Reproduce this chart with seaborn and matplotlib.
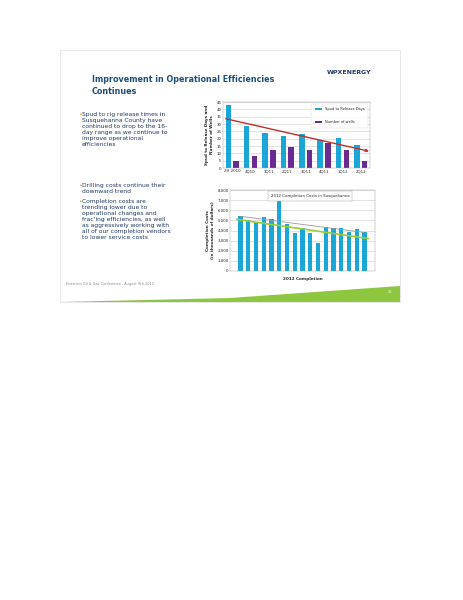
import matplotlib
matplotlib.use("Agg")
import matplotlib.pyplot as plt
import seaborn as sns
import pandas as pd
import numpy as np

sns.set_theme(style="white")
plt.rcParams['font.family'] = ['DejaVu Sans']

quarters = ["2H 2010", "4Q10", "1Q11", "2Q11", "3Q11", "4Q11", "1Q12", "2Q12"]
spud_days = [43, 28.5, 24, 21.5, 23, 19, 20.5, 16]
num_wells = [5, 8, 12, 14, 12, 17, 12, 5]
trend_spud = [34, 11]

completion_costs = [5400, 5050, 4750, 5300, 5150, 7000, 4600, 3800, 4250, 3750,
                    2750, 4350, 4200, 4200, 3850, 4100, 3850]
trend_green = [5100, 3200]
trend_grey = [5400, 3800]

W, H = 464, 600
fig = plt.figure(figsize=(4.64, 6.0), dpi=100)
fig.patch.set_facecolor("white")

def fx(x): return x / W
def fy(y): return 1 - y / H

# Slide frame
fig.add_artist(plt.Rectangle((fx(60), fy(302)), fx(340), 252/H, transform=fig.transFigure,
                             facecolor="white", edgecolor="#dddddd", lw=0.5, zorder=-5))
fig.text(fx(92), fy(80), "Improvement in Operational Efficiencies", fontsize=5.8,
         color="#1f4e79", weight="bold", va="center")
fig.text(fx(92), fy(92), "Continues", fontsize=5.8, color="#1f4e79", weight="bold", va="center")
fig.text(fx(327), fy(72), "WPXENERGY", fontsize=4.5, color="#1f3864", weight="bold", va="center")

bullets = [(112, "Spud to rig release times in\nSusquehanna County have\ncontinued to drop to the 16-\nday range as we continue to\nimprove operational\nefficiencies"),
           (183, "Drilling costs continue their\ndownward trend"),
           (199, "Completion costs are\ntrending lower due to\noperational changes and\nfrac'ing efficiencies, as well\nas aggressively working with\nall of our completion vendors\nto lower service costs")]
for y, t in bullets:
    fig.text(fx(78), fy(y), "•", fontsize=4.5, color="#f0a030", va="top")
    fig.text(fx(82), fy(y), t, fontsize=4.3, color="#1f3864", va="top", linespacing=1.25)

fig.text(fx(66), fy(285), "Enercom Oil & Gas Conference - August 9th 2012", fontsize=2.5, color="#888888")
fig.add_artist(plt.Polygon([[fx(60), fy(302)], [fx(400), fy(302)], [fx(400), fy(286)], [fx(230), fy(298)]],
                           closed=True, transform=fig.transFigure, facecolor="#8dc63f", edgecolor="none"))
fig.text(fx(388), fy(293), "15", fontsize=2.5, color="white")

# Upper chart
ax1 = fig.add_axes([fx(223), fy(168), (370-223)/W, (168-102)/H])
df1 = pd.DataFrame({"q": quarters * 2, "v": spud_days + num_wells,
                    "s": ["Spud to Release Days"] * 8 + ["Number of wells"] * 8})
sns.barplot(data=df1, x="q", y="v", hue="s", palette=["#1aa7d8", "#6a2a91"], ax=ax1,
            width=0.85, gap=0.3, saturation=1, linewidth=0)
ax1.set_ylim(0, 45)
ax1.set_yticks(range(0, 46, 5))
ax1.yaxis.grid(True, color="#cccccc", lw=0.4)
ax1.set_axisbelow(True)
ax1.tick_params(labelsize=2.8, length=0, pad=1)
ax1.set_xlabel("")
ax1.set_ylabel("Spud to Release Days and\nNumber of Wells", fontsize=3, weight="bold", labelpad=2)
ax1.annotate("", xy=(7.6, trend_spud[1]), xytext=(-0.5, trend_spud[0]), annotation_clip=False,
             arrowprops=dict(arrowstyle="-|>", color="#c0302a", lw=1.0, mutation_scale=4))
for s in ax1.spines.values(): s.set_linewidth(0.3); s.set_color("#999999")
leg = ax1.legend(fontsize=2.6, loc="upper right", frameon=True, labelspacing=2.5,
                 handlelength=2, borderpad=1)
leg.get_frame().set_linewidth(0.3)

# Lower chart
ax2 = fig.add_axes([fx(230), fy(271), (375-230)/W, (271-190)/H])
xs = list(range(len(completion_costs)))
sns.barplot(x=xs, y=completion_costs, color="#1aa7d8", ax=ax2, width=0.55, saturation=1, linewidth=0)
ax2.plot([0, len(xs) - 1], trend_grey, color="#999999", lw=0.6)
ax2.plot([-0.5, len(xs) - 0.5], trend_green, color="#9acd32", lw=1.2)
ax2.set_ylim(0, 8000)
ax2.set_yticks(range(0, 8001, 1000))
ax2.set_yticklabels([f"{v:,}" for v in range(0, 8001, 1000)])
ax2.set_xticks([])
ax2.yaxis.grid(True, color="#cccccc", lw=0.4)
ax2.set_axisbelow(True)
ax2.tick_params(labelsize=2.8, length=0, pad=1)
ax2.set_ylabel("Completion Costs\n(in thousands of dollars)", fontsize=3, weight="bold", labelpad=2)
ax2.set_xlabel("2012 Completion", fontsize=3, weight="bold", labelpad=4)
for s in ax2.spines.values(): s.set_linewidth(0.3); s.set_color("#999999")
ax2.text(0.28, 0.95, "2012 Completion Costs in Susquehanna", transform=ax2.transAxes,
         fontsize=2.8, va="top", bbox=dict(facecolor="white", edgecolor="#999999", lw=0.3, pad=2))

fig.savefig("out.png", dpi=100, facecolor="white")
